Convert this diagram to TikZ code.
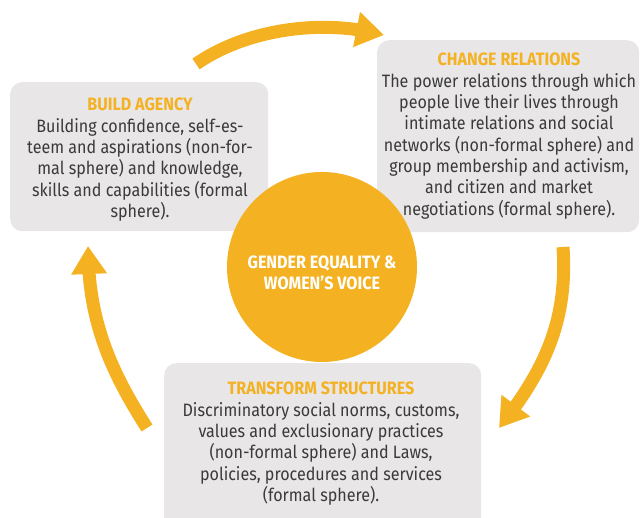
\documentclass[tikz,border=0pt]{standalone}
\usepackage{fontspec}
\setmainfont{Fira Sans}[FakeStretch=0.9]
\usetikzlibrary{arrows.meta,bending}
\definecolor{ylw}{HTML}{F4B223}
\definecolor{boxgray}{HTML}{E8E6E7}
\definecolor{txt}{HTML}{3A3A3A}
\tikzset{
  panel/.style={fill=boxgray, rounded corners=12pt, draw=none, inner sep=0pt},
  body/.style={align=center, text=txt, font=\fontsize{17.9}{21.3}\selectfont, inner sep=0pt},
  cyc/.style={draw=ylw, line width=13pt, -{Triangle[length=28pt,width=34pt,flex]}},
  hub/.style={circle, fill=ylw, minimum size=190pt, inner sep=0pt}
}
\begin{document}
\begin{tikzpicture}[x=1pt,y=-1pt]
\useasboundingbox (0,0) rectangle (640,518);
% panels
\node[panel, minimum width=258pt, minimum height=149pt, anchor=north west] (agency) at (10,82) {};
\node[panel, minimum width=262pt, minimum height=192pt, anchor=north west] (relations) at (377,40) {};
\node[panel, minimum width=317pt, minimum height=170pt, anchor=north west] (structures) at (164,363) {};
% hub
\node[hub] (hub) at (322,267) {};
\node[align=center, text=white, font=\fontsize{17.9}{20.5}\selectfont\bfseries, inner sep=0pt] (hubtext) at (322,273) {GENDER EQUALITY \&\\WOMEN’S VOICE};
% panel texts
\node[body, anchor=north] (agencytext) at (140,98) {{\color{ylw}\bfseries BUILD AGENCY}\\Building confidence, self-es-\\teem and aspirations (non-for-\\mal sphere) and knowledge,\\skills and capabilities (formal\\sphere).};
\node[body, anchor=north] (relationstext) at (509,53) {{\color{ylw}\bfseries CHANGE RELATIONS}\\The power relations through which\\people live their lives through\\intimate relations and social\\networks (non-formal sphere) and\\group membership and activism,\\and citizen and market\\negotiations (formal sphere).};
\node[body, anchor=north] (structurestext) at (321,382) {{\color{ylw}\bfseries TRANSFORM STRUCTURES}\\Discriminatory social norms, customs,\\values and exclusionary practices\\(non-formal sphere) and Laws,\\policies, procedures and services\\(formal sphere).};
% cycle arrows
\coordinate (a1) at (196,64);
\coordinate (a2) at (384,35);
\coordinate (b1) at (563,247);
\coordinate (b2) at (499,428);
\coordinate (c1) at (147,428);
\coordinate (c2) at (88,246);
\draw[cyc] (a1) .. controls (245,30) and (320,18) .. (a2);
\draw[cyc] (b1) .. controls (568,320) and (545,370) .. (b2);
\draw[cyc] (c1) .. controls (110,370) and (88,320) .. (c2);
\end{tikzpicture}
\end{document}
